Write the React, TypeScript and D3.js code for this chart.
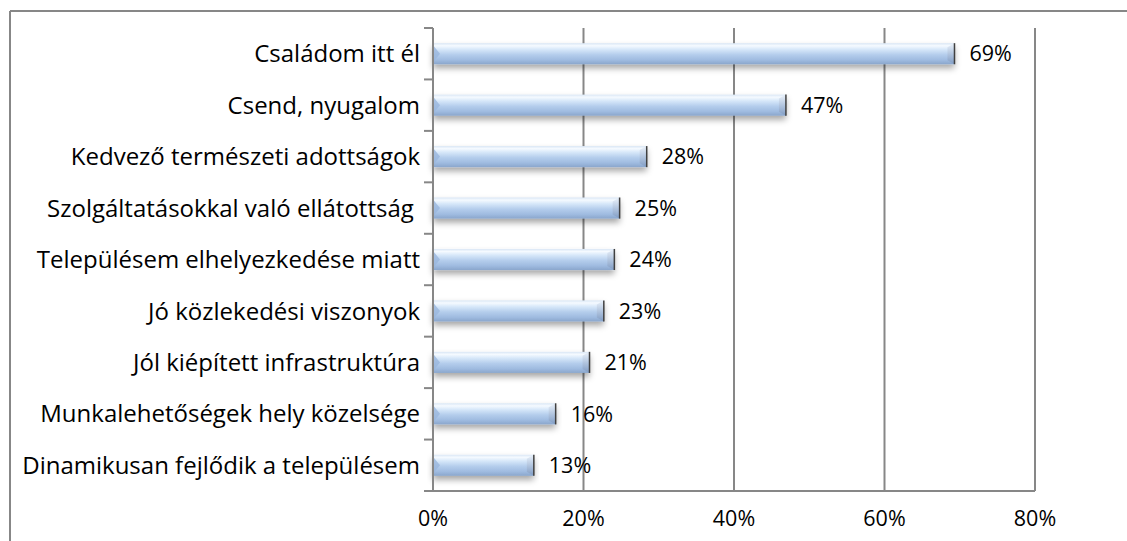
import React from "react";
import * as d3 from "d3";

const categories = [
  "Családom itt él",
  "Csend, nyugalom",
  "Kedvező természeti adottságok",
  "Szolgáltatásokkal való ellátottság ",
  "Településem elhelyezkedése miatt",
  "Jó közlekedési viszonyok",
  "Jól kiépített infrastruktúra",
  "Munkalehetőségek hely közelsége",
  "Dinamikusan fejlődik a településem",
];
const values = [69.3, 46.9, 28.4, 24.8, 24.1, 22.7, 20.8, 16.3, 13.4];
const xTicks = [0, 20, 40, 60, 80];

const W = 1127;
const H = 541;
const margin = { top: 28, right: 92, bottom: 50, left: 433 };
const FONT = "'Open Sans', sans-serif";

export default function App() {
  const x = d3.scaleLinear().domain([0, 80]).range([margin.left, W - margin.right]);
  const y = d3
    .scaleBand()
    .domain(categories)
    .range([margin.top, H - margin.bottom])
    .paddingInner(0.59)
    .paddingOuter(0.295);
  const bottom = H - margin.bottom;
  const step = y.step();
  const bh = y.bandwidth();

  return (
    <svg
      width={W}
      height={H}
      style={{ position: "absolute", left: 0, top: 0, background: "#fff" }}
      fontFamily={FONT}
    >
      <defs>
        <linearGradient id="barGrad" x1="0" y1="0" x2="0" y2="1">
          <stop offset="0" stopColor="#d9e6f5" />
          <stop offset="0.12" stopColor="#f5faff" />
          <stop offset="0.3" stopColor="#d6e7f9" />
          <stop offset="0.55" stopColor="#b4cdec" />
          <stop offset="0.8" stopColor="#9fbbe0" />
          <stop offset="1" stopColor="#8aa6cc" />
        </linearGradient>
        <linearGradient id="capGrad" x1="0" y1="0" x2="0" y2="1">
          <stop offset="0" stopColor="#e6eef8" />
          <stop offset="1" stopColor="#7d98bf" />
        </linearGradient>
        <filter id="shadow" x="-5%" y="-30%" width="110%" height="190%">
          <feDropShadow dx="0" dy="4" stdDeviation="3" floodColor="#000" floodOpacity="0.35" />
        </filter>
      </defs>

      {/* chart border */}
      <line x1={10} y1={11} x2={W} y2={11} stroke="#878787" strokeWidth={2} />
      <line x1={10} y1={11} x2={10} y2={H} stroke="#878787" strokeWidth={2} />

      {/* vertical gridlines */}
      {xTicks.slice(1).map((t) => (
        <line key={t} x1={x(t)} x2={x(t)} y1={margin.top} y2={bottom} stroke="#878787" strokeWidth={2} />
      ))}

      {/* bars */}
      {values.map((v, i) => {
        const y0 = y(categories[i])!;
        const x0 = x(0);
        const x1 = x(v);
        return (
          <g key={i}>
            <rect x={x0} y={y0} width={x1 - x0} height={bh} fill="url(#barGrad)" filter="url(#shadow)" />
            <polygon
              points={`${x0},${y0 + 2} ${x0 + 7},${y0 + bh / 2} ${x0},${y0 + bh - 2}`}
              fill="#9ab6dd"
              opacity={0.8}
            />
            <polygon
              points={`${x1},${y0} ${x1},${y0 + bh} ${x1 - 7},${y0 + bh - 4} ${x1 - 7},${y0 + 4}`}
              fill="url(#capGrad)"
              opacity={0.8}
            />
            <line x1={x1} x2={x1} y1={y0} y2={y0 + bh} stroke="#404040" strokeWidth={1.5} />
            <text x={x1 + 15} y={y0 + bh / 2} dy="0.36em" fontSize={21.5} fill="#000">
              {Math.round(v)}%
            </text>
          </g>
        );
      })}

      {/* category axis */}
      <line x1={x(0)} x2={x(0)} y1={margin.top} y2={bottom} stroke="#878787" strokeWidth={2} />
      {d3.range(categories.length + 1).map((k) => {
        const yy = margin.top + k * step;
        return <line key={k} x1={x(0) - 9} x2={x(0)} y1={yy} y2={yy} stroke="#878787" strokeWidth={2} />;
      })}
      {categories.map((c) => (
        <text
          key={c}
          x={x(0) - 13}
          y={y(c)! + bh / 2}
          dy="0.36em"
          textAnchor="end"
          fontSize={24}
          fill="#000"
          style={{ whiteSpace: "pre" }}
        >
          {c}
        </text>
      ))}

      {/* value axis */}
      <line x1={x(0)} x2={x(80)} y1={bottom} y2={bottom} stroke="#878787" strokeWidth={2} />
      {xTicks.map((t) => (
        <text key={t} x={x(t)} y={bottom + 27} dy="0.36em" textAnchor="middle" fontSize={21.5} fill="#000">
          {t}%
        </text>
      ))}
    </svg>
  );
}
